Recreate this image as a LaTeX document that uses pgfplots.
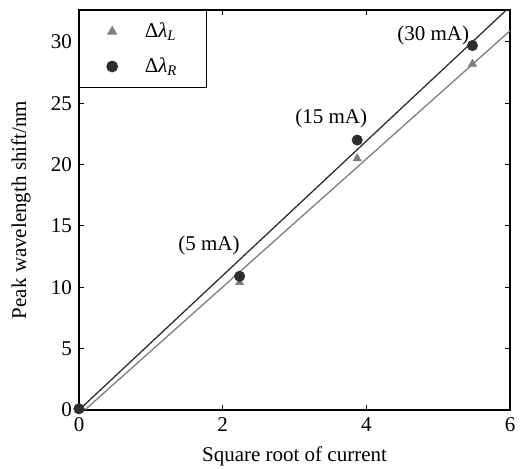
\documentclass[border=0pt]{standalone}
\usepackage{pgfplots}
\pgfplotsset{compat=1.18}
\usepackage{fontspec}
\setmainfont{Liberation Serif}
\definecolor{darkc}{HTML}{2E2E2E}
\definecolor{grayc}{HTML}{7E7E7E}
\begin{document}
\fontsize{21}{24}\selectfont
\begin{tikzpicture}
\begin{axis}[
  name=ax,
  scale only axis,
  width=431pt, height=400pt,
  xmin=0, xmax=6, ymin=0, ymax=32.6,
  xtick={0,2,4,6}, ytick={0,5,...,30},
  tick align=inside,
  major tick length=5pt,
  tick style={black, line width=1pt},
  axis line style={line width=1.2pt},
  /pgf/number format/assume math mode=true,
  tick label style={font=\fontsize{21}{24}\selectfont},
  label style={font=\fontsize{21}{24}\selectfont},
  xlabel={Square root of current},
  ylabel={Peak wavelength shift/nm},
  xlabel style={yshift=-1pt},
  ylabel style={yshift=6pt},
  legend style={at={(rel axis cs:0,1)}, anchor=north west, draw=black, line width=1.2pt,
    inner xsep=6pt, inner ysep=10pt, row sep=13pt, legend cell align=left,
    font=\fontsize{21}{24}\selectfont, nodes={inner sep=2pt}},
  legend image code/.code={\path (0pt,0pt) (56pt,0pt); \draw[#1] plot coordinates {(26pt,0pt)};},
  clip=false,
]
\addplot[draw=darkc, line width=1.3pt, forget plot] coordinates {(0,0) (5.95,32.6)};
\addplot[draw=grayc, line width=1.3pt, forget plot] coordinates {(0.08,0) (6,30.9)};
\addplot[only marks, mark=triangle*, mark size=4.8pt, mark options={fill=grayc, draw=grayc}] coordinates {(0,0) (2.236,10.4) (3.873,20.5) (5.477,28.2)};
\addplot[only marks, mark=*, mark size=5.3pt, mark options={fill=darkc, draw=darkc}] coordinates {(0,0.1) (2.236,10.9) (3.873,22.0) (5.477,29.7)};
\legend{Δ\textit{λ}\textsubscript{\textit{L}}\rule{22pt}{0pt}, Δ\textit{λ}\textsubscript{\textit{R}}\rule{22pt}{0pt}}
\node at (axis cs:1.81,13.4) {(5 mA)};
\node at (axis cs:3.51,23.8) {(15 mA)};
\node at (axis cs:4.93,30.5) {(30 mA)};
\end{axis}
\pgfresetboundingbox
\path ([xshift=-79pt,yshift=-58pt]ax.south west) rectangle ([xshift=16pt,yshift=10pt]ax.north east);
\end{tikzpicture}
\end{document}
